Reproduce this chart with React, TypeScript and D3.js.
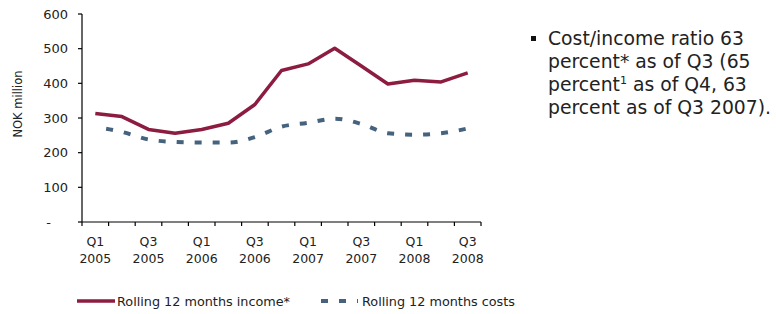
import * as d3 from "d3";

const quarters = ["Q1 2005", "Q2 2005", "Q3 2005", "Q4 2005", "Q1 2006", "Q2 2006", "Q3 2006", "Q4 2006", "Q1 2007", "Q2 2007", "Q3 2007", "Q4 2007", "Q1 2008", "Q2 2008", "Q3 2008"];
const income = [313, 304, 267, 256, 267, 285, 339, 437, 456, 501, 450, 398, 409, 404, 430];
const costs = [274, 260, 238, 231, 229, 229, 245, 275, 286, 298, 283, 256, 252, 256, 270];
const yTicks = [0, 100, 200, 300, 400, 500, 600];
const labelled = ["Q1 2005", "Q3 2005", "Q1 2006", "Q3 2006", "Q1 2007", "Q3 2007", "Q1 2008", "Q3 2008"];
const noteLines = ["Cost/income ratio 63", "percent* as of Q3 (65", "percent|1| as of Q4, 63", "percent as of Q3 2007)."];

const W = 776, H = 314;
const INCOME = "#8c1d40";
const COSTS = "#45637e";
const FONT = "'DejaVu Sans', Verdana, sans-serif";

export default function App() {
  const x = d3.scaleBand<string>().domain(quarters).range([82, 481]);
  const y = d3.scaleLinear().domain([0, 600]).range([222, 14]);
  const cx = (q: string) => (x(q) ?? 0) + x.bandwidth() / 2;

  const incomeLine = d3.line<number>().x((_, i) => cx(quarters[i])).y((d) => y(d));
  const costLine = d3.line<number>().x((_, i) => cx(quarters[i])).y((d) => y(d)).curve(d3.curveMonotoneX);

  // tick marks sit on the band edges
  const bounds = quarters.map((q) => x(q) ?? 0).concat([(x(quarters[quarters.length - 1]) ?? 0) + x.bandwidth()]);

  return (
    <svg width={W} height={H} style={{ position: "absolute", left: 0, top: 0, background: "#fff" }} fontFamily={FONT}>
      {/* y axis */}
      <line x1={82} x2={82} y1={y(600)} y2={y(0)} stroke="#000" strokeWidth={1.2} />
      {yTicks.map((t) => (
        <g key={t}>
          <line x1={78} x2={82} y1={y(t)} y2={y(t)} stroke="#000" strokeWidth={1.2} />
          <text x={t === 0 ? 51 : 68} y={y(t)} dy="0.36em" textAnchor="end" fontSize={13} fill="#222">
            {t === 0 ? "-" : t}
          </text>
        </g>
      ))}
      <text transform={`translate(22,104) rotate(-90)`} textAnchor="middle" fontSize={11.5} fill="#222">NOK million</text>

      {/* x axis */}
      <line x1={82} x2={481} y1={y(0)} y2={y(0)} stroke="#000" strokeWidth={1.2} />
      {bounds.map((b, i) => (
        <line key={i} x1={b} x2={b} y1={y(0)} y2={y(0) + 4} stroke="#000" strokeWidth={1.2} />
      ))}
      {labelled.map((q) => {
        const [a, b] = q.split(" ");
        return (
          <text key={q} x={cx(q)} textAnchor="middle" fontSize={12.5} fill="#222">
            <tspan x={cx(q)} y={246}>{a}</tspan>
            <tspan x={cx(q)} y={263}>{b}</tspan>
          </text>
        );
      })}

      {/* series */}
      <path d={costLine(costs) ?? ""} fill="none" stroke={COSTS} strokeWidth={4} strokeDasharray="7 11" strokeDashoffset={7} />
      <path d={incomeLine(income) ?? ""} fill="none" stroke={INCOME} strokeWidth={3.5} strokeLinejoin="round" />

      {/* legend */}
      <line x1={77} x2={115} y1={301} y2={301} stroke={INCOME} strokeWidth={3.5} />
      <text x={117} y={305.5} fontSize={12.8} fill="#222">Rolling 12 months income*</text>
      <line x1={321} x2={358} y1={301} y2={301} stroke={COSTS} strokeWidth={4} strokeDasharray="7 11" />
      <text x={362} y={305.5} fontSize={12.8} fill="#222">Rolling 12 months costs</text>

      {/* note */}
      <rect x={531} y={36} width={5} height={5} fill="#111" />
      {noteLines.map((l, i) => {
        const parts = l.split("|");
        return (
          <text key={i} x={548} y={45 + i * 23} fontSize={18.8} fill="#222">
            {parts.length === 1 ? l : (
              <>
                {parts[0]}
                <tspan fontSize={11} dy={-7}>{parts[1]}</tspan>
                <tspan dy={7}>{parts[2]}</tspan>
              </>
            )}
          </text>
        );
      })}
    </svg>
  );
}
